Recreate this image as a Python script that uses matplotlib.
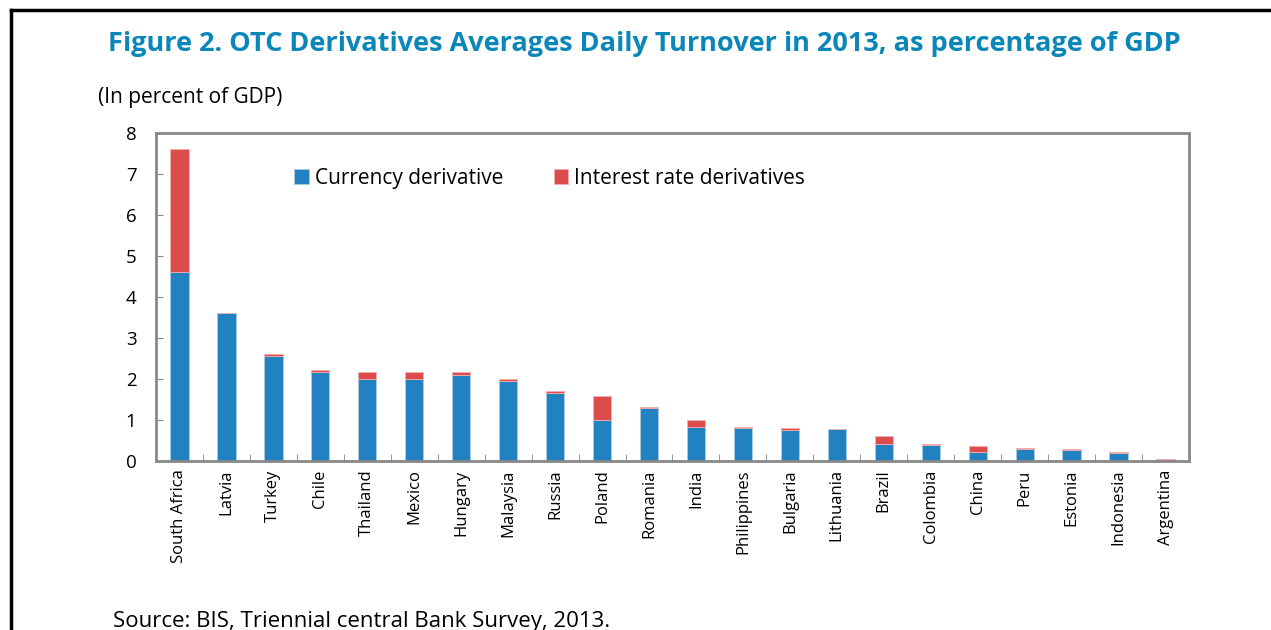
import matplotlib.pyplot as plt
from matplotlib.lines import Line2D
import numpy as np

plt.rcParams["font.family"] = ["Open Sans", "DejaVu Sans"]

AZUL = "#2281C1"
VERMELHO = "#DC4C4C"
TITULO_COR = "#0B86B8"

paises = ["South Africa", "Latvia", "Turkey", "Chile", "Thailand", "Mexico",
          "Hungary", "Malaysia", "Russia", "Poland", "Romania", "India",
          "Philippines", "Bulgaria", "Lithuania", "Brazil", "Colombia", "China",
          "Peru", "Estonia", "Indonesia", "Argentina"]
moeda = [4.6, 3.6, 2.56, 2.18, 2.0, 2.0, 2.1, 1.94, 1.66, 1.0, 1.28, 0.84,
         0.8, 0.76, 0.78, 0.42, 0.38, 0.22, 0.28, 0.27, 0.19, 0.01]
juros = [3.0, 0.0, 0.05, 0.03, 0.17, 0.17, 0.07, 0.06, 0.04, 0.58, 0.03, 0.17,
         0.04, 0.04, 0.0, 0.18, 0.04, 0.14, 0.04, 0.03, 0.04, 0.05]
yticks = [0, 1, 2, 3, 4, 5, 6, 7, 8]

fig = plt.figure(figsize=(12.71, 6.3), dpi=100)
ax = fig.add_axes([0.1227, 0.2683, 0.8128, 0.5206])

x = np.arange(len(paises))
ax.bar(x, moeda, width=0.39, color=AZUL, edgecolor="#A9CDE6", linewidth=0.6,
       label="Currency derivative")
ax.bar(x, juros, width=0.39, bottom=moeda, color=VERMELHO, edgecolor="#F0B0B0",
       linewidth=0.6, label="Interest rate derivatives")

ax.set_xlim(-0.5, len(paises) - 0.5)
ax.set_ylim(0, 8)
ax.set_yticks(yticks)
ax.set_yticklabels([str(v) for v in yticks], fontsize=13.5)
ax.tick_params(axis="y", direction="in", length=5, color="#888888", pad=14)

ax.set_xticks(x)
ax.set_xticklabels(paises, rotation=90, fontsize=12)
ax.tick_params(axis="x", length=0, pad=6)
ax.set_xticks(x[:-1] + 0.5, minor=True)
ax.tick_params(axis="x", which="minor", direction="in", length=5, color="#888888")

for s in ax.spines.values():
    s.set_color("#888888")
    s.set_linewidth(2)

ax.legend(loc="upper left", bbox_to_anchor=(0.126, 0.92), ncol=2, frameon=False,
          fontsize=15, handlelength=0.7, handleheight=0.7, handletextpad=0.3,
          columnspacing=2.4, borderaxespad=0)

fig.text(0.507, 0.930, "Figure 2. OTC Derivatives Averages Daily Turnover in 2013, as percentage of GDP",
         ha="center", va="center", fontsize=19.5, fontweight="bold", color=TITULO_COR)
fig.text(0.077, 0.846, "(In percent of GDP)", ha="left", va="center", fontsize=15)
fig.text(0.089, 0.013, "Source: BIS, Triennial central Bank Survey, 2013.", ha="left",
         va="center", fontsize=16)

# moldura preta (topo e esquerda)
fig.add_artist(Line2D([0.0086, 1.0], [0.984, 0.984], color="black", lw=2.5,
                      transform=fig.transFigure))
fig.add_artist(Line2D([0.0086, 0.0086], [0.0, 0.984], color="black", lw=2.5,
                      transform=fig.transFigure))

fig.savefig("out.png", dpi=100)
